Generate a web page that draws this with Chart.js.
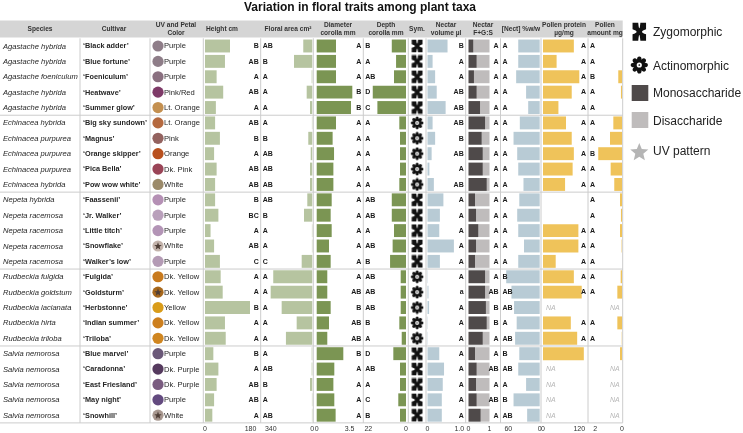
<!DOCTYPE html>
<html><head><meta charset="utf-8">
<script src="https://cdn.jsdelivr.net/npm/chart.js@4.4.1/dist/chart.umd.min.js"></script>
<style>html,body{margin:0;padding:0;background:#fff;overflow:hidden}canvas{display:block}</style>
</head><body>
<canvas id="c" width="743" height="433" style="width:743px;height:433px"></canvas>
<script>
// ---------------- DATA ----------------
const species = ['Agastache hybrida','Agastache hybrida','Agastache foeniculum','Agastache hybrida','Agastache hybrida',
 'Echinacea hybrida','Echinacea purpurea','Echinacea purpurea','Echinacea purpurea','Echinacea hybrida',
 'Nepeta hybrida','Nepeta racemosa','Nepeta racemosa','Nepeta racemosa','Nepeta racemosa',
 'Rudbeckia fulgida','Rudbeckia goldstum','Rudbeckia lacianata','Rudbeckia hirta','Rudbeckia triloba',
 'Salvia nemorosa','Salvia nemorosa','Salvia nemorosa','Salvia nemorosa','Salvia nemorosa'];
const cultivars = ['Black adder','Blue fortune','Foeniculum','Heatwave','Summer glow',
 'Big sky sundown','Magnus','Orange skipper','Pica Bella','Pow wow white',
 'Faassenii','Jr. Walker','Little titch','Snowflake','Walker\u2019s low',
 'Fulgida','Goldsturm','Herbstonne','Indian summer','Triloba',
 'Blue marvel','Caradonna','East Friesland','May night','Snowhill'];
const petalColorNames = ['Purple','Purple','Purple','Pink/Red','Lt. Orange',
 'Lt. Orange','Pink','Orange','Dk. Pink','White',
 'Purple','Purple','Purple','White','Purple',
 'Dk. Yellow','Dk. Yellow','Yellow','Dk. Yellow','Dk. Yellow',
 'Purple','Dk. Purple','Dk. Purple','Purple','White'];
const petalColors = ['#8e7d88','#8e7d88','#8a7080','#7e3a68','#c49050',
 '#b5693f','#93625f','#b8501e','#9a4457','#9b8a6a',
 '#b590b5','#b9a0bb','#b394b6','#c3b3ab','#b49bb5',
 '#c87a1e','#a8681c','#d99c1a','#cd7f1e','#d08620',
 '#6a5878','#553a5e','#7a5c80','#634a7f','#a89890'];
const uvPattern = [0,0,0,0,0, 0,0,0,0,0, 0,0,0,1,0, 0,1,0,0,0, 0,0,0,0,1];
const symmetry = ['Z','Z','Z','Z','Z','A','A','A','A','A','Z','Z','Z','Z','Z','A','A','A','A','A','Z','Z','Z','Z','Z'];

const heightCm    = [99,79,46,72,43, 40,59,36,46,40, 40,53,22,36,59, 62,70,178,79,82, 33,53,46,36,29];
const floralArea  = [74,150,5,46,19, 3,33,13,19,19, 41,68,3,3,87, 320,341,251,128,216, 5,5,19,3,3];
const diameterMm  = [2.06,2.06,2.06,3.8,3.66, 2.06,1.7,1.85,1.78,1.78, 1.6,1.49,1.6,1.31,1.49, 1.13,1.13,1.49,1.31,1.13, 2.84,1.88,1.78,1.88,2.02];
const depthMm     = [8.3,5.8,7.0,19.4,16.7, 3.9,3.5,3.5,3.5,3.9, 8.3,8.3,7.0,7.8,9.3, 3.1,3.1,3.1,3.9,2.5, 7.4,3.5,3.5,4.5,3.5];
const nectarVol   = [0.63,0.16,0.24,0.29,0.57, 0.16,0.24,0.13,0.06,0.2, 0.5,0.39,0.37,0.83,0.39, 0.01,0.03,0.05,0.01,0.01, 0.37,0.52,0.48,0.45,0.45];
const monoFrac    = [0.23,0.39,0.26,0.39,0.55, 0.79,0.63,0.68,0.68,0.87, 0.31,0.36,0.47,0.36,0.31, 0.79,0.79,0.83,0.87,0.68, 0.31,0.39,0.36,0.39,0.58];
const diFrac      = [0.77,0.61,0.74,0.61,0.45, 0.21,0.37,0.32,0.32,0.13, 0.69,0.64,0.53,0.64,0.69, 0.21,0.21,0.17,0.13,0.32, 0.69,0.61,0.64,0.61,0.42];
const nectConc    = [41,41,45,26,22, 38,50,43,41,31, 39,43,41,30,41, 64,54,49,44,47, 39,41,26,50,24];
const pollenProtein = [102,45,120,95,51, 76,95,102,98,73, null,null,117,117,42, 102,128,null,92,113, 135,null,null,null,null];
const pollenAmount  = [0,0,0.28,0.08,0, 0.65,0.9,1.78,0.85,0.58, 0.15,0.08,0.15,0.03,0, 0.1,0.35,null,0.35,0.02, 0.15,null,null,null,null];

const heightLetters    = ['B','AB','A','AB','A','AB','B','A','AB','AB','B','BC','A','AB','C','A','A','B','A','A','B','A','AB','AB','A'];
const floralLetters    = ['AB','B','A','A','A','A','B','AB','AB','AB','AB','B','A','A','C','A','A','A','A','A','A','AB','B','A','AB'];
const diameterLetters  = ['A','A','A','B','B','A','A','A','A','A','A','A','A','A','A','A','AB','B','AB','AB','B','A','A','A','A'];
const depthLetters     = ['B','A','AB','D','C','A','A','A','A','A','AB','AB','A','AB','B','AB','AB','AB','B','A','D','AB','A','C','B'];
const nectarVolLetters = ['B','A','A','AB','AB','AB','B','AB','A','AB','A','A','A','A','A','A','a','A','A','A','A','A','A','A','A'];
const sugarLetters     = ['A','A','A','A','A','A','A','A','A','A','A','A','A','A','A','A','AB','B','B','A','A','AB','A','AB','A'];
const nectConcLetters  = ['A','A','A','A','A','A','A','A','A','A','A','A','A','A','A','B','AB','AB','A','AB','B','AB','A','B','AB'];
const proteinLetters   = ['A','A','A','A','A','A','A','A','A','A','','','A','A','A','A','A','NA','A','A','','NA','NA','NA','NA'];
const amountLetters    = ['A','A','B','A','A','A','A','B','A','A','A','A','A','A','A','A','A','NA','A','A','','NA','NA','NA','NA'];

const heightTicks = [0,180], floralTicks = [0,340], diameterTicks = [0,3.5], depthTicks = [0,22];
const nectarVolTicks = [0,1], nectarVolTickLabels = ['0','1.0'];
const sugarTicks = [0,1], nectConcTicks = [0,60], proteinTicks = [0,120], amountTicks = [0,2];

const headerLabels = [
  ['Species'],['Cultivar'],['UV and Petal','Color'],['Height cm'],['Floral area cm\u00b2'],
  ['Diameter','corolla mm'],['Depth','corolla mm'],['Sym.'],['Nectar','volume \u00b5l'],['Nectar','F+G:S'],
  ['[Nect] %w/w'],['Pollen protein','\u00b5g/mg'],['Pollen','amount mg']];
const legendLabels = ['Zygomorphic','Actinomorphic','Monosaccharide','Disaccharide','UV pattern'];
const titleText = 'Variation in floral traits among plant taxa';

// ---------------- STYLE / LAYOUT ----------------
const FF = '"Liberation Sans", Arial, Helvetica, sans-serif';
const fnt = (st, sz) => `${st} ${sz}px ${FF}`;
const C = { sage:'#b6c4a0', olive:'#7b9553', blue:'#b8cbd5', mono:'#4f4a4a', di:'#bfbcbc', gold:'#efc35a', line:'#cccccc', text:'#262626' };
const AREA = { top: 38.3, bottom: 422.9 };
const TABLE_RIGHT = 622.7;
const COLS = { xUV:[150,203.3], xH:[203.3,260.7], xF:[260.7,313.3], xD:[313.3,363.3], xDp:[363.3,408.3], xS:[408.3,426],
  xNV:[426,465.7], xFGS:[465.7,500.5], xNC:[500.5,541], xPP:[541,588], xPA:[588,622.7] };
const HEADER_X = [40,114,176,222,288,338,386,417,446,483,521,564,605];
const UV_DOT_X = 8;

// ---------------- ICONS ----------------
function pathX(g, cx, cy, w, h) {
  const hw=w/2, hh=h/2, t=w*0.42, s=h*0.36, gy=h*0.19, gx=w*0.2;
  const curve = (x0,y0,mx,my,x1,y1) => g.quadraticCurveTo(2*mx-(x0+x1)/2, 2*my-(y0+y1)/2, x1, y1);
  g.beginPath();
  g.moveTo(cx-hw, cy-hh); g.lineTo(cx-hw+t, cy-hh);
  curve(cx-hw+t, cy-hh, cx, cy-gy, cx+hw-t, cy-hh);
  g.lineTo(cx+hw, cy-hh); g.lineTo(cx+hw, cy-hh+s);
  curve(cx+hw, cy-hh+s, cx+gx, cy, cx+hw, cy+hh-s);
  g.lineTo(cx+hw, cy+hh); g.lineTo(cx+hw-t, cy+hh);
  curve(cx+hw-t, cy+hh, cx, cy+gy, cx-hw+t, cy+hh);
  g.lineTo(cx-hw, cy+hh); g.lineTo(cx-hw, cy+hh-s);
  curve(cx-hw, cy+hh-s, cx-gx, cy, cx-hw, cy-hh+s);
  g.closePath();
}
function drawFlower(g, cx, cy, r, col) {
  g.fillStyle = col;
  for (let k=0;k<8;k++){ const a=k*Math.PI/4; g.beginPath(); g.ellipse(cx+Math.cos(a)*r*0.6, cy+Math.sin(a)*r*0.6, r*0.4, r*0.27, a, 0, Math.PI*2); g.fill(); }
  g.beginPath(); g.arc(cx,cy,r*0.45,0,Math.PI*2); g.fill();
  g.beginPath(); g.arc(cx,cy,r*0.3,0,Math.PI*2); g.fillStyle='#fff'; g.fill();
  g.beginPath(); g.arc(cx,cy,r*0.1,0,Math.PI*2); g.fillStyle=col; g.fill();
}
function pathStar(g, cx, cy, R, ri) {
  g.beginPath();
  for (let k=0;k<10;k++){ const a=-Math.PI/2+k*Math.PI/5, rr=k%2?ri:R; const x=cx+Math.cos(a)*rr, y=cy+Math.sin(a)*rr; if(k) g.lineTo(x,y); else g.moveTo(x,y); }
  g.closePath();
}
function makeIcon(w, h, fn) { const c=document.createElement('canvas'); c.width=w; c.height=h; fn(c.getContext('2d'), w/2, h/2); return c; }
const iconZygo = makeIcon(12, 14, (g,cx,cy)=>{ pathX(g,cx,cy,10.8,12.6); g.fillStyle='#111'; g.fill(); });
const iconActino = makeIcon(14, 14, (g,cx,cy)=>drawFlower(g,cx,cy,6.4,'#111'));
const iconStar = makeIcon(10, 10, (g,cx,cy)=>{ pathStar(g,cx,cy+0.3,4,1.7); g.fillStyle='#4e3e36'; g.fill(); });

// ---------------- SCALES ----------------
function colScale(min, max, reverse, tickVals, tickLabels, show) {
  return {
    type:'linear', position:'bottom', stack:'cols', stackWeight:1, min, max, reverse, display: show,
    grid:{display:false, drawTicks:false}, border:{display:false},
    ticks:{autoSkip:false, maxRotation:0, minRotation:0, padding:2, color:'#333', font:{size:7, family:FF},
      callback:(v,i)=> tickLabels ? tickLabels[i] : String(v)},
    afterBuildTicks: s => { s.ticks = tickVals.map(v=>({value:v})); },
    afterFit: s => { s.height = 10; }
  };
}
const scales = {
  y: { type:'category', display:false, offset:true, grid:{display:false} },
  xUV: colScale(0, 53.3, false, [0], null, false),
  xH: colScale(-6.7, 220.3, false, heightTicks, null, true),
  xF: colScale(-8.2, 422.7, true, floralTicks, null, true),
  xD: colScale(-0.363, 4.973, false, diameterTicks, null, true),
  xDp: colScale(-1.342, 24.92, true, depthTicks, null, true),
  xS: colScale(0, 1, false, [0], null, false),
  xNV: colScale(-0.047, 1.201, false, nectarVolTicks, nectarVolTickLabels, true),
  xFGS: Object.assign(colScale(-0.133, 1.524, false, sugarTicks, null, true), {stacked:true}),
  xNC: colScale(-2.48, 74.9, true, nectConcTicks, null, true),
  xPP: colScale(-6.6, 148.8, false, proteinTicks, null, true),
  xPA: colScale(-0.052, 2.547, true, amountTicks, null, true)
};

// ---------------- DATASETS ----------------
const barBase = { type:'bar', yAxisID:'y', grouped:false, barPercentage:0.84, categoryPercentage:1, borderWidth:0, clip:false };
const datasets = [
  {...barBase, label:'Height cm', data:heightCm, xAxisID:'xH', backgroundColor:C.sage},
  {...barBase, label:'Floral area cm2', data:floralArea, xAxisID:'xF', backgroundColor:C.sage},
  {...barBase, label:'Diameter corolla mm', data:diameterMm, xAxisID:'xD', backgroundColor:C.olive},
  {...barBase, label:'Depth corolla mm', data:depthMm, xAxisID:'xDp', backgroundColor:C.olive},
  {...barBase, label:'Nectar volume', data:nectarVol, xAxisID:'xNV', backgroundColor:C.blue},
  {...barBase, label:'Monosaccharide', data:monoFrac, xAxisID:'xFGS', stack:'fgs', backgroundColor:C.mono},
  {...barBase, label:'Disaccharide', data:diFrac, xAxisID:'xFGS', stack:'fgs', backgroundColor:C.di},
  {...barBase, label:'[Nect] %w/w', data:nectConc, xAxisID:'xNC', backgroundColor:C.blue},
  {...barBase, label:'Pollen protein', data:pollenProtein, xAxisID:'xPP', backgroundColor:C.gold},
  {...barBase, label:'Pollen amount', data:pollenAmount, xAxisID:'xPA', backgroundColor:C.gold},
  { type:'scatter', label:'Petal color', xAxisID:'xUV', yAxisID:'y', clip:false, showLine:false, order:1,
    data: cultivars.map(c=>({x:UV_DOT_X, y:c})), pointStyle:'circle', pointRadius:5.6,
    pointBackgroundColor: petalColors, pointBorderWidth:0 },
  { type:'scatter', label:'UV pattern', xAxisID:'xUV', yAxisID:'y', clip:false, showLine:false, order:-1,
    data: cultivars.filter((c,i)=>uvPattern[i]).map(c=>({x:UV_DOT_X, y:c})), pointStyle:iconStar, pointRadius:4 },
  { type:'scatter', label:'Symmetry', xAxisID:'xS', yAxisID:'y', clip:false, showLine:false,
    data: cultivars.map(c=>({x:0.5, y:c})), pointStyle: symmetry.map(s=> s==='Z' ? iconZygo : iconActino), pointRadius:6 }
];

// ---------------- PLUGIN ----------------
const genus = s => s.split(' ')[0];
const letterCols = [
  ['xH', heightLetters], ['xF', floralLetters], ['xD', diameterLetters], ['xDp', depthLetters],
  ['xNV', nectarVolLetters], ['xFGS', sugarLetters], ['xNC', nectConcLetters], ['xPP', proteinLetters], ['xPA', amountLetters]];

const tablePlugin = {
  id:'table',
  afterLayout(chart) {
    for (const [id,[l,r]] of Object.entries(COLS)) {
      const s = chart.scales[id];
      s.left = l; s.right = r; s.width = r-l; s.top = AREA.bottom; s.bottom = AREA.bottom+10; s.height = 10;
      s.configure();
    }
    const y = chart.scales.y;
    y.top = AREA.top; y.bottom = AREA.bottom; y.height = AREA.bottom-AREA.top; y.configure();
    Object.assign(chart.chartArea, {left:0, right:743, top:AREA.top-4, bottom:AREA.bottom+4, width:743, height:AREA.bottom-AREA.top+8});
  },
  beforeDatasetsDraw(chart) {
    const ctx = chart.ctx, y = chart.scales.y;
    ctx.save();
    ctx.fillStyle = '#d5d5d5';
    ctx.fillRect(0, 20.5, TABLE_RIGHT, 17);
    ctx.strokeStyle = C.line; ctx.lineWidth = 1;
    const xs = [80, 150, ...Object.keys(COLS).map(id=>chart.scales[id].right)];
    ctx.beginPath();
    for (const x of xs) { ctx.moveTo(x, y.top); ctx.lineTo(x, y.bottom); }
    for (let i=1;i<species.length;i++) {
      if (genus(species[i]) !== genus(species[i-1])) {
        const yy = (y.getPixelForValue(i-1)+y.getPixelForValue(i))/2;
        ctx.moveTo(0, yy); ctx.lineTo(TABLE_RIGHT, yy);
      }
    }
    ctx.moveTo(0, y.bottom); ctx.lineTo(TABLE_RIGHT, y.bottom);
    ctx.stroke();
    ctx.restore();
  },
  afterDatasetsDraw(chart) {
    const ctx = chart.ctx, y = chart.scales.y;
    ctx.save();
    ctx.textBaseline = 'middle';
    // title
    ctx.fillStyle = '#111'; ctx.textAlign = 'center'; ctx.font = fnt('bold', 12);
    ctx.fillText(titleText, 360, 7.5);
    // headers
    ctx.fillStyle = '#333'; ctx.font = fnt('bold', 6.6);
    headerLabels.forEach((lines, k) => {
      if (lines.length === 1) ctx.fillText(lines[0], HEADER_X[k], 29.3);
      else { ctx.fillText(lines[0], HEADER_X[k], 25.2); ctx.fillText(lines[1], HEADER_X[k], 33.2); }
    });
    // rows
    for (let i=0;i<cultivars.length;i++) {
      const yy = y.getPixelForValue(i) + 0.4;
      ctx.textAlign = 'left'; ctx.fillStyle = C.text;
      ctx.font = fnt('italic', 7.6); ctx.fillText(species[i], 3, yy);
      ctx.font = fnt('bold', 7.3); ctx.fillText('\u2018' + cultivars[i] + '\u2019', 83, yy);
      ctx.font = fnt('normal', 7.6); ctx.fillText(petalColorNames[i], 164, yy);
      for (const [id, letters] of letterCols) {
        const s = chart.scales[id], L = letters[i];
        if (!L) continue;
        if (L === 'NA') {
          ctx.font = fnt('italic', 7); ctx.fillStyle = '#b8b8b8';
          if (s.options.reverse) { ctx.textAlign='right'; ctx.fillText('NA', s.right-3, yy); }
          else { ctx.textAlign='left'; ctx.fillText('NA', s.left+5, yy); }
        } else {
          ctx.font = fnt('bold', 7); ctx.fillStyle = '#1a1a1a';
          if (s.options.reverse) { ctx.textAlign='left'; ctx.fillText(L, s.left+2, yy); }
          else { ctx.textAlign='right'; ctx.fillText(L, s.right-2, yy); }
        }
      }
    }
    // legend
    ctx.fillStyle = '#111'; pathX(ctx, 639.3, 31.7, 13.5, 18); ctx.fill();
    drawFlower(ctx, 639.3, 65, 8.6, '#111');
    ctx.fillStyle = C.mono; ctx.fillRect(631.7, 85, 16.6, 16);
    ctx.fillStyle = C.di; ctx.fillRect(631.7, 112, 16.6, 16);
    pathStar(ctx, 639.3, 152.5, 9.5, 4.2); ctx.fillStyle = '#b5b5b5'; ctx.fill();
    ctx.fillStyle = '#222'; ctx.font = fnt('normal', 12); ctx.textAlign = 'left';
    const ly = [33, 66.5, 94, 121.5, 152];
    legendLabels.forEach((t,k)=>ctx.fillText(t, 653, ly[k]));
    ctx.restore();
  }
};

new Chart(document.getElementById('c'), {
  type:'bar',
  data:{ labels: cultivars, datasets },
  options:{
    indexAxis:'y', responsive:false, maintainAspectRatio:false, animation:false, events:[],
    layout:{ padding:{ left:0, right:120.3, top:38.3, bottom:0 } },
    plugins:{ legend:{display:false}, tooltip:{enabled:false}, title:{display:false} },
    scales
  },
  plugins:[tablePlugin]
});
</script>
</body></html>
